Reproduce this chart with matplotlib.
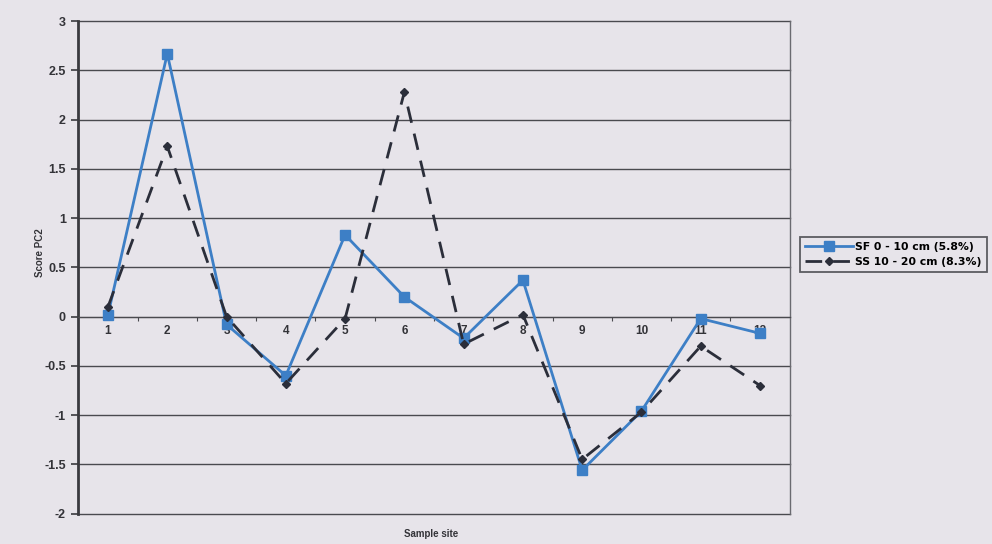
import numpy as np
import matplotlib
matplotlib.use("Agg")
import matplotlib.pyplot as plt

plt.rcParams['font.family'] = ['Liberation Sans', 'DejaVu Sans']

# Sample sites and PC2 scores for the two soil depths
sites = list(range(1, 13))
site_labels = [str(s) for s in sites]
sf_scores = [0.02, 2.67, -0.08, -0.60, 0.83, 0.20, -0.22, 0.37, -1.56, -0.96, -0.02, -0.17]
ss_scores = [0.10, 1.73, 0.00, -0.68, -0.02, 2.28, -0.28, 0.02, -1.45, -0.97, -0.30, -0.70]
sf_label = "SF 0 - 10 cm (5.8%)"
ss_label = "SS 10 - 20 cm (8.3%)"
y_ticks = [3, 2.5, 2, 1.5, 1, 0.5, 0, -0.5, -1, -1.5, -2]
y_tick_labels = ["3", "2.5", "2", "1.5", "1", "0.5", "0", "-0.5", "-1", "-1.5", "-2"]

bg = "#e7e4ea"
fig = plt.figure(figsize=(9.92, 5.44), dpi=100, facecolor=bg)
ax = fig.add_axes([0.079, 0.056, 0.717, 0.905], facecolor=bg)

# Horizontal gridlines (the Excel-style plot area)
for yv in y_ticks:
    ax.axhline(yv, color="#4a4a4f", lw=1.0, zorder=1, clip_on=False)

ax.plot(sites, sf_scores, color="#3d7fc6", lw=2.0, marker="s", ms=6.5,
        mfc="#3d7fc6", mec="#3d7fc6", label=sf_label, zorder=3)
ax.plot(sites, ss_scores, color="#2b2e3a", lw=2.0, ls=(0, (6, 4)), marker="D",
        ms=4.5, mfc="#2b2e3a", mec="#2b2e3a", label=ss_label, zorder=4)

ax.set_xlim(0.5, 12.5)
ax.set_ylim(-2, 3)

# Category axis crosses at zero
ax.spines['bottom'].set_position(('data', 0))
ax.spines['bottom'].set_color("#4a4a4f")
ax.spines['top'].set_visible(False)
ax.spines['right'].set_color("#6a6a70")
ax.spines['right'].set_linewidth(1.0)
ax.spines['left'].set_color("#3a3a3f")
ax.spines['left'].set_linewidth(2.0)

ax.set_xticks(np.arange(1.5, 12.5, 1))
ax.set_xticklabels([])
ax.tick_params(axis='x', which='major', direction='out', length=3, color="#4a4a4f")
ax.set_xticks(sites, minor=True)
ax.set_xticklabels(site_labels, minor=True, fontsize=8.5, fontweight='bold', color="#333338")
ax.tick_params(axis='x', which='minor', length=0, pad=6)

ax.set_yticks(y_ticks)
ax.set_yticklabels(y_tick_labels, fontsize=9, fontweight='bold', color="#333338")
ax.tick_params(axis='y', direction='out', length=5, width=1.2, color="#3a3a3f", pad=4)

fig.text(0.040, 0.535, "Score PC2", rotation=90, ha='center', va='center',
         fontsize=7, fontweight='bold', color="#333338")
fig.text(0.435, 0.018, "Sample site", ha='center', va='center',
         fontsize=7, fontweight='bold', color="#333338")

leg = fig.legend(loc='upper left', bbox_to_anchor=(0.806, 0.565), frameon=True,
                 fancybox=False, edgecolor="#3a3a3f", facecolor=bg,
                 prop={'family': 'DejaVu Sans', 'size': 7.8, 'weight': 'bold'},
                 handlelength=4.4, borderpad=0.5, labelspacing=0.45,
                 handletextpad=0.2, borderaxespad=0)
leg.get_frame().set_linewidth(1.3)

fig.savefig("out.png", dpi=100, facecolor=bg)
